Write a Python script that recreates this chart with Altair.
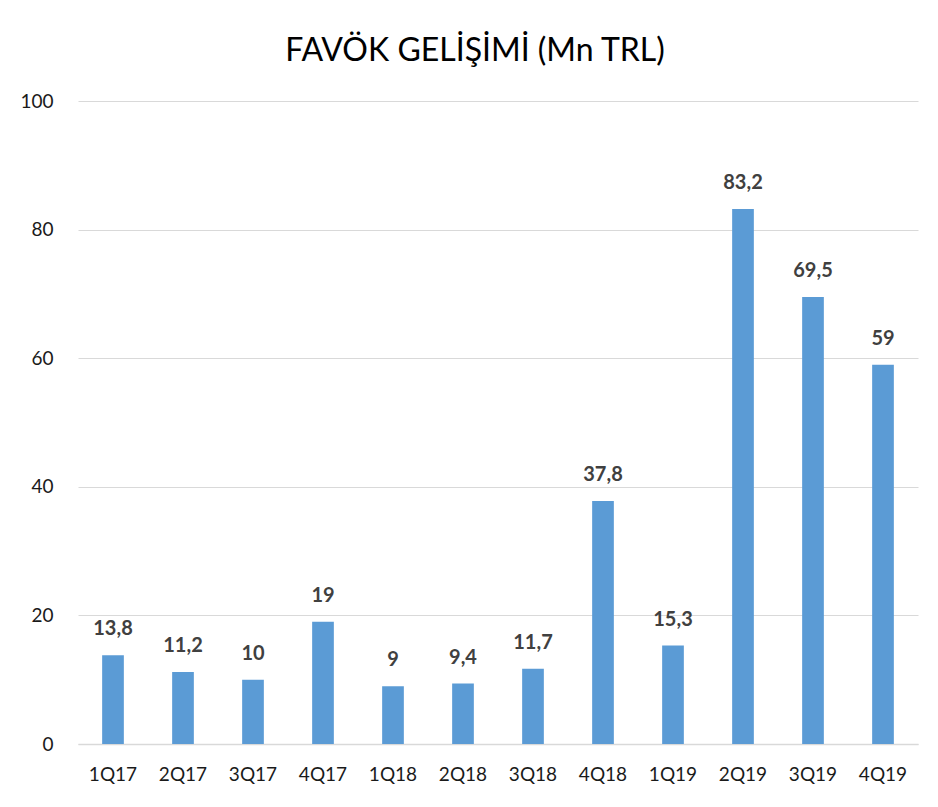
import altair as alt
import pandas as pd

quarters = ["1Q17", "2Q17", "3Q17", "4Q17", "1Q18", "2Q18", "3Q18", "4Q18", "1Q19", "2Q19", "3Q19", "4Q19"]
values = [13.8, 11.2, 10, 19, 9, 9.4, 11.7, 37.8, 15.3, 83.2, 69.5, 59]
labels = ["13,8", "11,2", "10", "19", "9", "9,4", "11,7", "37,8", "15,3", "83,2", "69,5", "59"]

df = pd.DataFrame({"q": quarters, "v": values, "lab": labels})

FONT = "Lato"

base = alt.Chart(df).encode(
    x=alt.X("q:N", sort=quarters, title=None,
            scale=alt.Scale(paddingInner=0.69, paddingOuter=0.345),
            axis=alt.Axis(labelAngle=0, ticks=False, grid=False, domainColor="#D9D9D9", domainWidth=1.5,
                          labelFontSize=19, labelColor="#1a1a1a", labelPadding=21, labelFont=FONT)),
    y=alt.Y("v:Q", title=None,
            scale=alt.Scale(domain=[0, 100], nice=False),
            axis=alt.Axis(values=[0, 20, 40, 60, 80, 100], ticks=False, domain=False,
                          gridColor="#D9D9D9", gridWidth=1.2, labelFontSize=19,
                          labelColor="#1a1a1a", labelPadding=25, labelFont=FONT)),
)

bars = base.mark_bar(color="#5B9BD5")
text = base.mark_text(dy=-16, baseline="bottom", fontWeight="bold", fontSize=20,
                      color="#404040", font=FONT).encode(text="lab:N")

chart = (bars + text).properties(
    width=840, height=643,
    title=alt.TitleParams("FAVÖK GELİŞİMİ (Mn TRL)", fontSize=32, font=FONT, fontWeight="normal",
                          color="#000000", anchor="middle", dx=-23, offset=24, frame="group"),
    autosize=alt.AutoSizeParams(type="none"),
    padding={"left": 70, "top": 93, "right": 12, "bottom": 55},
    background="white",
).configure_view(stroke=None)

chart.save("out.html", embed_options={"renderer": "svg", "actions": False})
